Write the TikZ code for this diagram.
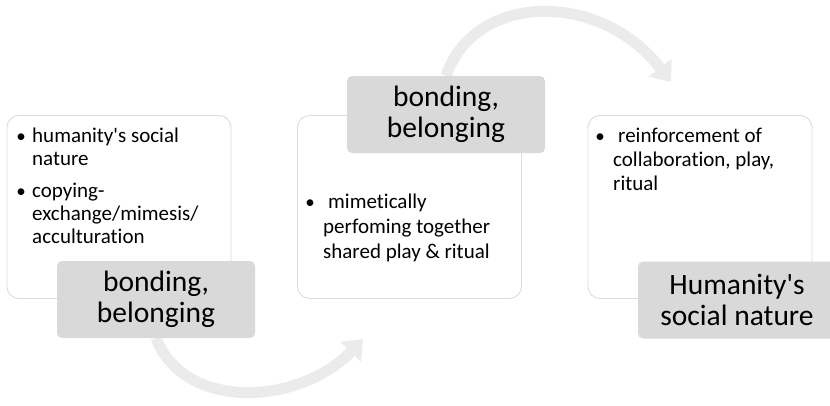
\documentclass[tikz,border=0pt]{standalone}
\usepackage{fontspec}
\setmainfont{Carlito}[Ligatures={TeXOff,CommonOff}]
\usetikzlibrary{arrows.meta}

\definecolor{tagfill}{HTML}{D9D9D9}
\definecolor{panelline}{HTML}{DCDCDC}
\definecolor{flowgray}{HTML}{EBEBEB}

\begin{document}
\begin{tikzpicture}[x=1pt, y=-1pt,
  panel/.style={draw=panelline, line width=0.9pt, fill=white, rounded corners=12pt,
    minimum width=224pt, minimum height=183pt, inner sep=0pt},
  tag/.style={fill=tagfill, rounded corners=5pt, minimum width=198pt, minimum height=77pt,
    inner sep=0pt, align=center, font=\fontsize{29.5}{31}\selectfont},
  body/.style={inner sep=0pt, align=left, anchor=base west, font=\fontsize{21}{23}\selectfont},
  dot/.style={inner sep=0pt, anchor=base, font=\fontsize{19}{23}\selectfont},
  flow/.style={draw=flowgray, line width=11pt, -{Triangle[width=28pt,length=18pt]}}]
\useasboundingbox (0,0) rectangle (830,405);

% panels
\node[panel] (p1) at (119,207) {};
\node[panel] (p2) at (409.5,207) {};
\node[panel] (p3) at (700,207) {};

% flow arrows (drawn under the labels)
\coordinate (f1) at (363,339);
\coordinate (f2) at (671,82);
\node[tag, fill=none] (t1) at (156,299.5) {};
\node[tag, fill=none] (t2) at (446,114.5) {};
\draw[flow] (t1.south) .. controls (185,412) and (300,405) .. (f1);
\draw[flow] (t2.north) .. controls (475,-8) and (600,-10) .. (f2);

% labels
\node[tag] (t1) at (156,299.5) {bonding,\\belonging};
\node[tag] (t2) at (446,114.5) {bonding,\\belonging};
\node[tag] (t3) at (737,300) {Humanity's\\social nature};

% panel 1 (nodes sit on their last baseline)
\node[dot] (d11) at (21,142) {\textbullet};
\node[body] (b11) at (32,165) {humanity's social\\nature};
\node[dot] (d12) at (21,197) {\textbullet};
\node[body] (b12) at (32,243) {copying-\\exchange/mimesis/\\acculturation};

% panel 2
\node[dot] (d21) at (310,208) {\textbullet};
\node[body, font=\fontsize{21}{25}\selectfont] (b21) at (323,258)
  {\hspace*{5pt}mimetically\\perfoming together\\shared play \& ritual};

% panel 3
\node[dot] (d31) at (600,142) {\textbullet};
\node[body, font=\fontsize{21}{24}\selectfont] (b31) at (613,190)
  {\hspace*{5pt}reinforcement of\\collaboration, play,\\ritual};
\end{tikzpicture}
\end{document}
